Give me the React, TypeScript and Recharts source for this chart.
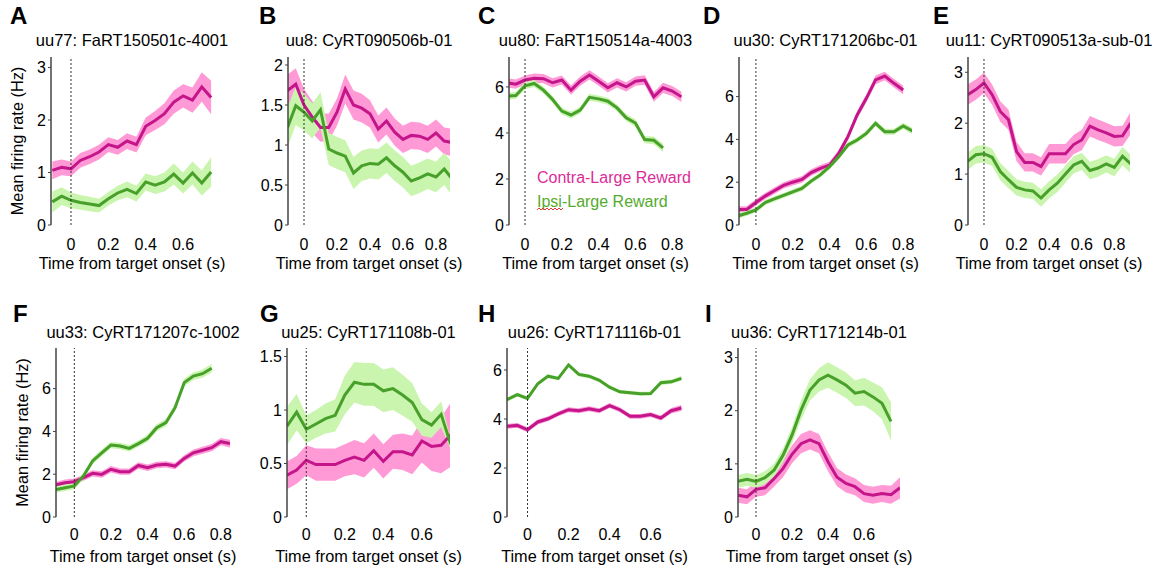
import React from 'react';
import { ComposedChart, Line, Area, XAxis, YAxis, ReferenceLine } from 'recharts';

// time bins (s), shared by every panel
const TIMES = [-0.1, -0.05, 0, 0.05, 0.1, 0.15, 0.2, 0.25, 0.3, 0.35, 0.4, 0.45, 0.5, 0.55, 0.6, 0.65, 0.7, 0.75, 0.8, 0.85, 0.9];

// A: uu77
const A_CONTRA = [1.04, 1.1, 1.07, 1.23, 1.3, 1.39, 1.53, 1.48, 1.6, 1.53, 1.88, 1.99, 2.12, 2.34, 2.46, 2.38, 2.63, 2.43];
const A_CONTRA_SEM = [0.17, 0.15, 0.14, 0.14, 0.14, 0.14, 0.14, 0.14, 0.15, 0.15, 0.17, 0.18, 0.2, 0.22, 0.22, 0.24, 0.28, 0.32];
const A_IPSI = [0.44, 0.55, 0.47, 0.43, 0.4, 0.37, 0.5, 0.61, 0.68, 0.6, 0.82, 0.76, 0.82, 0.97, 0.8, 0.99, 0.8, 1.01];
const A_IPSI_SEM = [0.2, 0.17, 0.15, 0.14, 0.14, 0.13, 0.13, 0.14, 0.15, 0.15, 0.16, 0.17, 0.18, 0.2, 0.2, 0.22, 0.24, 0.28];

// B: uu8
const B_CONTRA = [1.68, 1.76, 1.5, 1.35, 1.22, 1.22, 1.41, 1.7, 1.5, 1.46, 1.39, 1.2, 1.3, 1.16, 1.07, 1.12, 1.11, 1.07, 1.15, 1.05, 1.03];
const B_CONTRA_SEM = [0.2, 0.2, 0.2, 0.2, 0.18, 0.17, 0.17, 0.18, 0.18, 0.18, 0.17, 0.17, 0.17, 0.17, 0.17, 0.17, 0.17, 0.17, 0.17, 0.17, 0.17];
const B_IPSI = [1.22, 1.49, 1.41, 1.3, 1.44, 0.95, 0.9, 0.86, 0.65, 0.74, 0.77, 0.76, 0.84, 0.74, 0.66, 0.55, 0.59, 0.64, 0.6, 0.7, 0.57];
const B_IPSI_SEM = [0.25, 0.24, 0.23, 0.22, 0.22, 0.2, 0.2, 0.2, 0.2, 0.19, 0.19, 0.19, 0.19, 0.19, 0.19, 0.19, 0.19, 0.19, 0.19, 0.2, 0.21];

// C: uu80
const C_CONTRA = [6.18, 6.12, 6.3, 6.38, 6.36, 6.18, 6.3, 5.86, 6.25, 6.52, 6.25, 5.96, 6.18, 6.0, 6.25, 6.3, 5.57, 5.96, 5.82, 5.57];
const C_CONTRA_SEM = [0.2, 0.2, 0.2, 0.2, 0.2, 0.2, 0.2, 0.2, 0.2, 0.2, 0.2, 0.2, 0.2, 0.2, 0.2, 0.21, 0.21, 0.22, 0.22, 0.22];
const C_IPSI = [5.6, 5.63, 6.05, 6.15, 5.86, 5.45, 4.95, 4.78, 4.99, 5.55, 5.48, 5.38, 5.09, 4.66, 4.43, 3.71, 3.68, 3.35];
const C_IPSI_SEM = [0.15, 0.15, 0.15, 0.15, 0.15, 0.15, 0.15, 0.15, 0.15, 0.15, 0.15, 0.15, 0.15, 0.15, 0.16, 0.16, 0.17, 0.18];

// D: uu30
const D_CONTRA = [0.73, 0.73, 1.05, 1.35, 1.6, 1.85, 2.0, 2.13, 2.45, 2.65, 2.8, 3.35, 4.13, 5.14, 5.92, 6.78, 6.96, 6.62, 6.31];
const D_CONTRA_SEM = [0.15, 0.15, 0.15, 0.15, 0.15, 0.15, 0.15, 0.15, 0.15, 0.15, 0.15, 0.16, 0.17, 0.18, 0.18, 0.2, 0.2, 0.2, 0.2];
const D_IPSI = [0.42, 0.55, 0.7, 1.05, 1.22, 1.38, 1.55, 1.71, 2.05, 2.34, 2.73, 3.19, 3.74, 3.97, 4.28, 4.75, 4.36, 4.36, 4.63, 4.39];
const D_IPSI_SEM = [0.12, 0.12, 0.12, 0.12, 0.12, 0.12, 0.12, 0.12, 0.12, 0.12, 0.12, 0.12, 0.13, 0.13, 0.13, 0.14, 0.14, 0.14, 0.15, 0.15];

// E: uu11
const E_CONTRA = [2.56, 2.66, 2.79, 2.56, 2.23, 2.07, 1.44, 1.23, 1.23, 1.15, 1.4, 1.4, 1.4, 1.58, 1.67, 1.94, 1.87, 1.81, 1.74, 1.75, 2.0];
const E_CONTRA_SEM = [0.2, 0.2, 0.2, 0.2, 0.2, 0.2, 0.19, 0.18, 0.18, 0.18, 0.19, 0.19, 0.19, 0.19, 0.2, 0.2, 0.2, 0.2, 0.2, 0.2, 0.22];
const E_IPSI = [1.25, 1.38, 1.4, 1.33, 1.05, 0.89, 0.74, 0.69, 0.67, 0.53, 0.69, 0.82, 1.0, 1.18, 1.25, 1.07, 1.12, 1.2, 1.13, 1.35, 1.2];
const E_IPSI_SEM = [0.17, 0.17, 0.17, 0.17, 0.17, 0.17, 0.16, 0.16, 0.16, 0.17, 0.17, 0.17, 0.17, 0.17, 0.17, 0.17, 0.17, 0.17, 0.17, 0.18, 0.18];

// F: uu33
const F_CONTRA = [1.5, 1.6, 1.65, 1.84, 2.04, 1.99, 2.23, 2.12, 2.12, 2.41, 2.3, 2.43, 2.46, 2.38, 2.74, 3.0, 3.12, 3.24, 3.52, 3.43];
const F_CONTRA_SEM = [0.15, 0.15, 0.15, 0.15, 0.15, 0.15, 0.15, 0.15, 0.15, 0.15, 0.15, 0.15, 0.15, 0.15, 0.15, 0.16, 0.16, 0.17, 0.17, 0.18];
const F_IPSI = [1.29, 1.37, 1.45, 1.92, 2.62, 3.0, 3.36, 3.32, 3.21, 3.43, 3.68, 4.17, 4.41, 5.11, 6.28, 6.59, 6.7, 6.95];
const F_IPSI_SEM = [0.15, 0.15, 0.15, 0.15, 0.15, 0.15, 0.15, 0.15, 0.15, 0.15, 0.16, 0.16, 0.17, 0.17, 0.18, 0.18, 0.19, 0.2];

// G: uu25
const G_CONTRA = [0.39, 0.44, 0.53, 0.49, 0.49, 0.49, 0.53, 0.56, 0.53, 0.62, 0.52, 0.61, 0.61, 0.58, 0.71, 0.66, 0.67, 0.77];
const G_CONTRA_SEM = [0.13, 0.13, 0.14, 0.15, 0.15, 0.15, 0.15, 0.16, 0.16, 0.16, 0.16, 0.16, 0.17, 0.18, 0.2, 0.23, 0.26, 0.3];
const G_IPSI = [0.85, 0.98, 0.82, 0.87, 0.92, 0.95, 1.14, 1.26, 1.24, 1.24, 1.18, 1.2, 1.14, 1.07, 0.91, 0.86, 0.96, 0.68];
const G_IPSI_SEM = [0.18, 0.17, 0.13, 0.13, 0.14, 0.15, 0.18, 0.19, 0.2, 0.2, 0.2, 0.2, 0.19, 0.18, 0.15, 0.12, 0.12, 0.05];

// H: uu26
const H_CONTRA = [3.7, 3.74, 3.56, 3.88, 4.01, 4.21, 4.38, 4.34, 4.42, 4.34, 4.55, 4.38, 4.11, 4.11, 4.18, 4.04, 4.34, 4.45];
const H_CONTRA_SEM = [0.1, 0.1, 0.1, 0.1, 0.1, 0.1, 0.1, 0.1, 0.1, 0.1, 0.1, 0.1, 0.1, 0.1, 0.1, 0.1, 0.11, 0.12];
const H_IPSI = [4.79, 5.0, 4.84, 5.44, 5.75, 5.66, 6.21, 5.82, 5.75, 5.58, 5.3, 5.11, 5.07, 5.03, 5.04, 5.48, 5.52, 5.66];
const H_IPSI_SEM = [0.08, 0.08, 0.08, 0.08, 0.08, 0.08, 0.08, 0.08, 0.08, 0.08, 0.08, 0.08, 0.08, 0.08, 0.08, 0.09, 0.09, 0.1];

// I: uu36
const I_CONTRA = [0.41, 0.38, 0.52, 0.55, 0.72, 0.91, 1.18, 1.38, 1.45, 1.38, 1.04, 0.75, 0.63, 0.57, 0.44, 0.41, 0.44, 0.42, 0.55];
const I_CONTRA_SEM = [0.14, 0.14, 0.14, 0.14, 0.15, 0.16, 0.17, 0.18, 0.18, 0.18, 0.18, 0.17, 0.17, 0.16, 0.16, 0.16, 0.16, 0.17, 0.2];
const I_IPSI = [0.67, 0.71, 0.67, 0.74, 0.88, 1.16, 1.54, 2.01, 2.39, 2.58, 2.67, 2.58, 2.48, 2.33, 2.36, 2.26, 2.14, 1.8];
const I_IPSI_SEM = [0.12, 0.12, 0.12, 0.12, 0.12, 0.13, 0.15, 0.18, 0.2, 0.22, 0.24, 0.24, 0.24, 0.24, 0.26, 0.27, 0.3, 0.36];

const LETTERS = ['A', 'B', 'C', 'D', 'E', 'F', 'G', 'H', 'I'];
const TITLES = [
  'uu77: FaRT150501c-4001',
  'uu8: CyRT090506b-01',
  'uu80: FaRT150514a-4003',
  'uu30: CyRT171206bc-01',
  'uu11: CyRT090513a-sub-01',
  'uu33: CyRT171207c-1002',
  'uu25: CyRT171108b-01',
  'uu26: CyRT171116b-01',
  'uu36: CyRT171214b-01',
];
const LEGEND = ['Contra-Large Reward', 'Ipsi-Large Reward'];
const X_LABEL = 'Time from target onset (s)';
const Y_LABEL = 'Mean firing rate (Hz)';

const MAGENTA = '#c4168a';
const PINK = '#ff9ad6';
const GREEN = '#47a02a';
const LIGHT_GREEN = '#c9f5ae';

type Series = [number[], number[], number[], number[]];

const SERIES: Series[] = [
  [A_CONTRA, A_CONTRA_SEM, A_IPSI, A_IPSI_SEM],
  [B_CONTRA, B_CONTRA_SEM, B_IPSI, B_IPSI_SEM],
  [C_CONTRA, C_CONTRA_SEM, C_IPSI, C_IPSI_SEM],
  [D_CONTRA, D_CONTRA_SEM, D_IPSI, D_IPSI_SEM],
  [E_CONTRA, E_CONTRA_SEM, E_IPSI, E_IPSI_SEM],
  [F_CONTRA, F_CONTRA_SEM, F_IPSI, F_IPSI_SEM],
  [G_CONTRA, G_CONTRA_SEM, G_IPSI, G_IPSI_SEM],
  [H_CONTRA, H_CONTRA_SEM, H_IPSI, H_IPSI_SEM],
  [I_CONTRA, I_CONTRA_SEM, I_IPSI, I_IPSI_SEM],
];

// layout of each plot area (px on the page) and its axis ranges
const PANELS = [
  { left: 51, right: 213, row: 0, x: [-0.107, 0.76], y: [0, 3.2], xt: [0, 0.2, 0.4, 0.6], yt: [0, 1, 2, 3] },
  { left: 288, right: 450, row: 0, x: [-0.097, 0.885], y: [0, 2.1], xt: [0, 0.2, 0.4, 0.6, 0.8], yt: [0, 0.5, 1, 1.5, 2] },
  { left: 509, right: 682, row: 0, x: [-0.087, 0.853], y: [0, 7.3], xt: [0, 0.2, 0.4, 0.6, 0.8], yt: [0, 2, 4, 6] },
  { left: 739, right: 912, row: 0, x: [-0.092, 0.848], y: [0, 7.85], xt: [0, 0.2, 0.4, 0.6, 0.8], yt: [0, 2, 4, 6] },
  { left: 968, right: 1130, row: 0, x: [-0.098, 0.896], y: [0, 3.3], xt: [0, 0.2, 0.4, 0.6, 0.8], yt: [0, 1, 2, 3] },
  { left: 56, right: 230, row: 1, x: [-0.1, 0.85], y: [0, 7.9], xt: [0, 0.2, 0.4, 0.6, 0.8], yt: [0, 2, 4, 6] },
  { left: 287, right: 450, row: 1, x: [-0.1, 0.746], y: [0, 1.58], xt: [0, 0.2, 0.4, 0.6], yt: [0, 0.5, 1, 1.5] },
  { left: 507, right: 682, row: 1, x: [-0.1, 0.753], y: [0, 6.9], xt: [0, 0.2, 0.4, 0.6], yt: [0, 2, 4, 6] },
  { left: 738, right: 900, row: 1, x: [-0.1, 0.8], y: [0, 3.18], xt: [0, 0.2, 0.4, 0.6], yt: [0, 1, 2, 3] },
];

const ROWS = [
  { top: 57, bottom: 225, tickMargin: 14, labelOffset: 6, titleY: 46, letterY: 24 },
  { top: 348, bottom: 517, tickMargin: 12, labelOffset: 5, titleY: 338, letterY: 322 },
];
const LETTER_X = [10, 259, 478, 703, 933, 13, 260, 478, 705];

const Y_W = 40;
const M_TOP = 5;
const M_RIGHT = 6;
const X_H = 50;
const FONT = 'Arial, "Liberation Sans", Helvetica, sans-serif';

function buildRows([contra, cSem, ipsi, iSem]: Series) {
  const n = Math.max(contra.length, ipsi.length);
  return TIMES.slice(0, n).map((t, i) => ({
    t,
    contra: contra[i],
    contraBand: contra[i] != null ? [contra[i] - cSem[i], contra[i] + cSem[i]] : undefined,
    ipsi: ipsi[i],
    ipsiBand: ipsi[i] != null ? [ipsi[i] - iSem[i], ipsi[i] + iSem[i]] : undefined,
  }));
}

function Panel({ idx }: { idx: number }) {
  const p = PANELS[idx];
  const r = ROWS[p.row];
  const plotW = p.right - p.left;
  const plotH = r.bottom - r.top;
  const data = buildRows(SERIES[idx]);
  const withYLabel = idx === 0 || idx === 5;

  return (
    <div style={{ position: 'absolute', left: p.left - Y_W, top: r.top - M_TOP }}>
      <ComposedChart
        width={Y_W + plotW + M_RIGHT}
        height={M_TOP + plotH + X_H}
        data={data}
        margin={{ top: M_TOP, right: M_RIGHT, bottom: 0, left: 0 }}
      >
        <XAxis
          type="number"
          dataKey="t"
          domain={p.x}
          allowDataOverflow
          ticks={p.xt}
          axisLine={false}
          tickLine={false}
          tickSize={0}
          tickMargin={r.tickMargin}
          height={X_H}
          tick={{ fontSize: 16, fill: '#000' }}
          label={{ value: X_LABEL, position: 'insideBottom', offset: r.labelOffset, fontSize: 16.3, fill: '#000' }}
        />
        <YAxis
          type="number"
          domain={p.y}
          allowDataOverflow
          ticks={p.yt}
          width={Y_W}
          tickSize={3}
          tickMargin={2}
          axisLine={{ stroke: '#444', strokeWidth: 1.5 }}
          tickLine={{ stroke: '#444' }}
          tick={{ fontSize: 16, fill: '#000' }}
          label={
            withYLabel
              ? { value: Y_LABEL, angle: -90, position: 'insideLeft', offset: 6, textAnchor: 'middle', fontSize: 16.3, fill: '#000' }
              : undefined
          }
        />
        <Area dataKey="contraBand" type="linear" fill={PINK} fillOpacity={1} stroke="none" isAnimationActive={false} />
        <Line dataKey="contra" type="linear" stroke={MAGENTA} strokeWidth={3} dot={false} isAnimationActive={false} />
        <Area dataKey="ipsiBand" type="linear" fill={LIGHT_GREEN} fillOpacity={1} stroke="none" isAnimationActive={false} />
        <Line dataKey="ipsi" type="linear" stroke={GREEN} strokeWidth={3} dot={false} isAnimationActive={false} />
        <ReferenceLine x={0} stroke="#333" strokeWidth={1} strokeDasharray="2 2" />
      </ComposedChart>
    </div>
  );
}

export default function App() {
  return (
    <div
      style={{
        position: 'absolute',
        left: 0,
        top: 0,
        width: 1166,
        height: 568,
        background: '#fff',
        fontFamily: FONT,
        overflow: 'hidden',
      }}
    >
      <style>{'.recharts-surface { overflow: visible; }'}</style>
      {PANELS.map((_, i) => (
        <Panel key={i} idx={i} />
      ))}
      <svg width={1166} height={568} style={{ position: 'absolute', left: 0, top: 0, pointerEvents: 'none' }}>
        {PANELS.map((p, i) => (
          <g key={i}>
            <text x={LETTER_X[i]} y={ROWS[p.row].letterY} fontSize={24} fontWeight="bold" fill="#000">
              {LETTERS[i]}
            </text>
            <text x={(p.left + p.right) / 2} y={ROWS[p.row].titleY} fontSize={16.5} textAnchor="middle" fill="#000">
              {TITLES[i]}
            </text>
          </g>
        ))}
        <text x={537} y={183} fontSize={16} fill="#dc2c98">
          {LEGEND[0]}
        </text>
        <text x={537} y={207} fontSize={16} fill="#55ab2e">
          {LEGEND[1]}
        </text>
        <polyline
          points="537,210 539,208 541,210 543,208 545,210 547,208 549,210 551,208 553,210 555,208 557,210 559,208 561,210 563,208"
          fill="none"
          stroke="#e23a3a"
          strokeWidth={1}
        />
      </svg>
    </div>
  );
}
